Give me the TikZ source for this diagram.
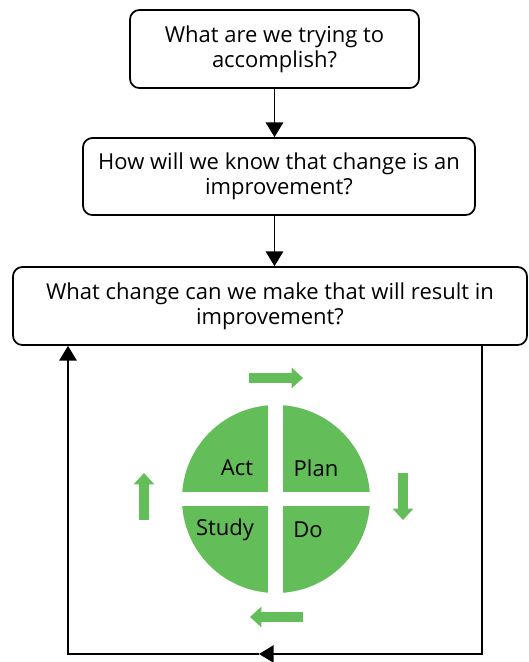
\documentclass[tikz,border=0pt]{standalone}
\usepackage{fontspec}
\setmainfont{Open Sans}
\usetikzlibrary{arrows.meta, positioning}
\definecolor{pdsagreen}{RGB}{99, 189, 88}

\tikzset{
  question/.style={draw, line width=1.3pt, rounded corners=7pt, align=center, inner sep=0pt, font=\fontsize{16.5}{19}\selectfont},
  flow/.style={line width=1.3pt, -{Triangle[width=13pt, length=11pt]}},
  turnarrow/.style={draw=pdsagreen, line width=8pt, -{Triangle[width=15pt, length=8.5pt]}},
  quadlabel/.style={inner sep=0pt, font=\fontsize{16.5}{19}\selectfont}
}

\begin{document}
\begin{tikzpicture}[x=0.75pt, y=-0.75pt]
  \useasboundingbox (0,0) rectangle (529,662);

  % Question boxes
  \node[question, minimum width=216.75pt, minimum height=58.5pt] (aim) at (274.5, 49) {What are we trying to\\accomplish?};
  \node[question, minimum width=294pt, minimum height=57.75pt] (measure) at (279, 176.5) {How will we know that change is an\\improvement?};
  \node[question, minimum width=385.5pt, minimum height=58.5pt] (change) at (270, 306) {What change can we make that will result in\\improvement?};

  \draw[flow] (aim.south) -- (aim.south |- measure.north);
  \draw[flow] (aim.south |- measure.south) -- (aim.south |- change.north);

  % Feedback loop
  \coordinate (rdown) at (482, 654);
  \coordinate (mid) at (259, 654);
  \coordinate (ldown) at (68, 654);
  \draw[flow] (change.south -| rdown) -- (rdown) -- (mid);
  \draw[flow] (mid) -- (ldown) -- (change.south -| ldown);

  % PDSA wheel
  \coordinate (hub) at (276, 499);
  \begin{scope}
    \clip (hub) circle[radius=70.5pt];
    \fill[pdsagreen] (170, 395) rectangle (268, 492);
    \fill[pdsagreen] (283, 395) rectangle (380, 492);
    \fill[pdsagreen] (170, 506) rectangle (268, 605);
    \fill[pdsagreen] (283, 506) rectangle (380, 605);
  \end{scope}
  \node[quadlabel] (act) at (237, 468) {Act};
  \node[quadlabel] (plan) at (316, 468) {Plan};
  \node[quadlabel] (study) at (225, 530) {Study};
  \node[quadlabel] (do) at (308, 530) {Do};

  % Cycle arrows
  \draw[turnarrow] (249, 378) -- (303, 378);
  \draw[turnarrow] (403, 473) -- (403, 520);
  \draw[turnarrow] (303, 617) -- (250, 617);
  \draw[turnarrow] (144, 520) -- (144, 473);
\end{tikzpicture}
\end{document}
